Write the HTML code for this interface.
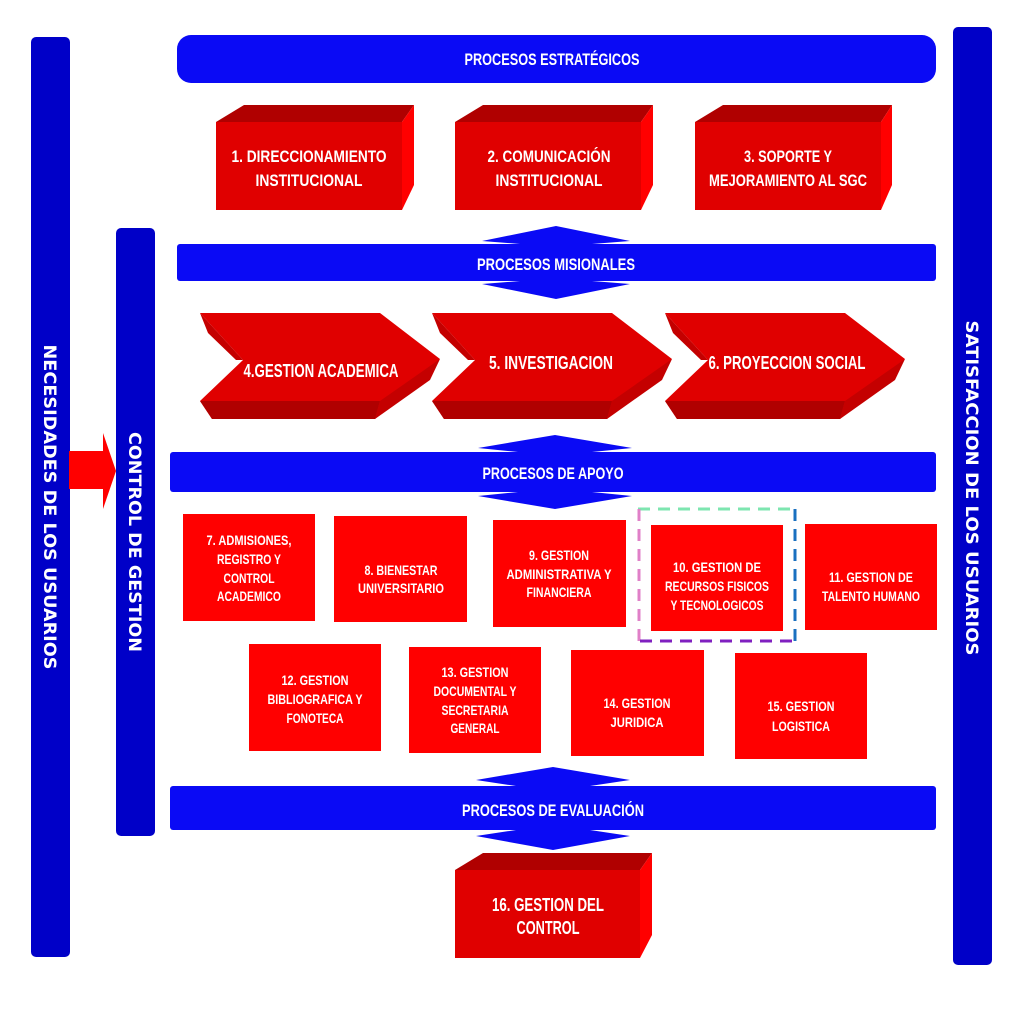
<!DOCTYPE html>
<html><head><meta charset="utf-8"><style>
html,body{margin:0;padding:0;background:#fff;}
svg{display:block;}
.t{font-family:"Liberation Sans",sans-serif;font-weight:bold;fill:#fff;text-anchor:middle;}
.v{font-family:"DejaVu Sans","Liberation Sans",sans-serif;font-weight:bold;fill:#fff;text-anchor:middle;font-size:17px;}
</style></head><body>
<svg width="1024" height="1024" viewBox="0 0 1024 1024" xmlns="http://www.w3.org/2000/svg">
<rect width="1024" height="1024" fill="#fff"/>
<!-- side bars -->
<rect x="31" y="37" width="39" height="920" rx="5" fill="#0000c8"/>
<rect x="116" y="228" width="39" height="608" rx="5" fill="#0000c8"/>
<rect x="953" y="27" width="39" height="938" rx="5" fill="#0000c8"/>
<text class="v" transform="translate(44,507) rotate(90)" textLength="325" lengthAdjust="spacingAndGlyphs">NECESIDADES DE LOS USUARIOS</text>
<text class="v" transform="translate(129,542) rotate(90)" textLength="220" lengthAdjust="spacingAndGlyphs">CONTROL DE GESTION</text>
<text class="v" transform="translate(966,488) rotate(90)" textLength="335" lengthAdjust="spacingAndGlyphs">SATISFACCION DE LOS USUARIOS</text>
<!-- red arrow -->
<polygon points="69,451 103,451 103,433 116,471 103,509 103,489 69,489" fill="#ff0000"/>
<!-- top bar -->
<rect x="177" y="35" width="759" height="48" rx="14" fill="#0a0af5"/>
<text class="t" x="552" y="65" font-size="17" textLength="175" lengthAdjust="spacingAndGlyphs">PROCESOS ESTRATÉGICOS</text>
<!-- 3D boxes row 1 -->
<g>
<polygon points="216,122 244,105 414,105 402,122" fill="#b00000"/>
<polygon points="402,122 414,105 414,185 402,210" fill="#ff0000"/>
<rect x="216" y="122" width="186" height="88" fill="#e00000"/>
<text class="t" x="309" y="162" font-size="17" textLength="155" lengthAdjust="spacingAndGlyphs">1. DIRECCIONAMIENTO</text>
<text class="t" x="309" y="186" font-size="17" textLength="107" lengthAdjust="spacingAndGlyphs">INSTITUCIONAL</text>
</g>
<g>
<polygon points="455,122 483,105 653,105 641,122" fill="#b00000"/>
<polygon points="641,122 653,105 653,185 641,210" fill="#ff0000"/>
<rect x="455" y="122" width="186" height="88" fill="#e00000"/>
<text class="t" x="549" y="162" font-size="17" textLength="123" lengthAdjust="spacingAndGlyphs">2. COMUNICACIÓN</text>
<text class="t" x="549" y="186" font-size="17" textLength="107" lengthAdjust="spacingAndGlyphs">INSTITUCIONAL</text>
</g>
<g>
<polygon points="695,122 723,105 892,105 881,122" fill="#b00000"/>
<polygon points="881,122 892,105 892,185 881,210" fill="#ff0000"/>
<rect x="695" y="122" width="186" height="88" fill="#e00000"/>
<text class="t" x="788" y="162" font-size="17" textLength="88" lengthAdjust="spacingAndGlyphs">3. SOPORTE Y</text>
<text class="t" x="788" y="186" font-size="17" textLength="158" lengthAdjust="spacingAndGlyphs">MEJORAMIENTO AL SGC</text>
</g>
<!-- double arrows -->
<polygon points="556,226 630,241 592,244 592,281 630,284 556,299 482,284 520,281 520,244 482,241" fill="#0a0af5"/>
<polygon points="555,435 632,448 592,452 592,492 632,496 555,509 478,496 518,492 518,452 478,448" fill="#0a0af5"/>
<polygon points="553,767 630,780 590,786 590,830 630,836 553,850 476,836 516,830 516,786 476,780" fill="#0a0af5"/>
<!-- misionales bar -->
<rect x="177" y="244" width="759" height="37" rx="3" fill="#0a0af5"/>
<text class="t" x="556" y="270" font-size="17" textLength="158" lengthAdjust="spacingAndGlyphs">PROCESOS MISIONALES</text>
<!-- chevrons -->
<g id="ch1">
<polygon points="200,313 380,313 440,359 375,419 212,419 200,401 243,360" fill="#e00000"/>
<polygon points="212,419 200,401 380,401 375,419" fill="#b00000"/>
<polygon points="380,401 440,359 430,380 375,419" fill="#c40000"/>
<polygon points="200,313 243,360 236,360 208,333" fill="#c40000"/>
</g>
<use href="#ch1" transform="translate(232,0)"/>
<use href="#ch1" transform="translate(465,0)"/>
<text class="t" x="321" y="377" font-size="18" textLength="155" lengthAdjust="spacingAndGlyphs">4.GESTION ACADEMICA</text>
<text class="t" x="551" y="369" font-size="18" textLength="124" lengthAdjust="spacingAndGlyphs">5. INVESTIGACION</text>
<text class="t" x="787" y="369" font-size="18" textLength="157" lengthAdjust="spacingAndGlyphs">6. PROYECCION SOCIAL</text>
<!-- apoyo bar -->
<rect x="170" y="452" width="766" height="40" rx="3" fill="#0a0af5"/>
<text class="t" x="553" y="479" font-size="17" textLength="141" lengthAdjust="spacingAndGlyphs">PROCESOS DE APOYO</text>
<!-- support boxes -->
<g fill="#ff0000">
<rect x="183" y="514" width="132" height="107"/>
<rect x="334" y="516" width="133" height="106"/>
<rect x="493" y="520" width="133" height="107"/>
<rect x="651" y="525" width="132" height="106"/>
<rect x="805" y="524" width="132" height="106"/>
<rect x="249" y="644" width="132" height="107"/>
<rect x="409" y="647" width="132" height="106"/>
<rect x="571" y="650" width="133" height="106"/>
<rect x="735" y="653" width="132" height="106"/>
</g>
<g class="t" font-size="14">
<text x="249" y="545" textLength="85" lengthAdjust="spacingAndGlyphs">7. ADMISIONES,</text>
<text x="249" y="564" textLength="64" lengthAdjust="spacingAndGlyphs">REGISTRO Y</text>
<text x="249" y="583" textLength="51" lengthAdjust="spacingAndGlyphs">CONTROL</text>
<text x="249" y="601" textLength="64" lengthAdjust="spacingAndGlyphs">ACADEMICO</text>
<text x="401" y="575" textLength="73" lengthAdjust="spacingAndGlyphs">8. BIENESTAR</text>
<text x="401" y="593" textLength="86" lengthAdjust="spacingAndGlyphs">UNIVERSITARIO</text>
<text x="559" y="560" textLength="60" lengthAdjust="spacingAndGlyphs">9. GESTION</text>
<text x="559" y="579" textLength="105" lengthAdjust="spacingAndGlyphs">ADMINISTRATIVA Y</text>
<text x="559" y="597" textLength="65" lengthAdjust="spacingAndGlyphs">FINANCIERA</text>
<text x="717" y="572" textLength="88" lengthAdjust="spacingAndGlyphs">10. GESTION DE</text>
<text x="717" y="591" textLength="104" lengthAdjust="spacingAndGlyphs">RECURSOS FISICOS</text>
<text x="717" y="610" textLength="93" lengthAdjust="spacingAndGlyphs">Y TECNOLOGICOS</text>
<text x="871" y="582" textLength="84" lengthAdjust="spacingAndGlyphs">11. GESTION DE</text>
<text x="871" y="601" textLength="98" lengthAdjust="spacingAndGlyphs">TALENTO HUMANO</text>
<text x="315" y="685" textLength="67" lengthAdjust="spacingAndGlyphs">12. GESTION</text>
<text x="315" y="704" textLength="95" lengthAdjust="spacingAndGlyphs">BIBLIOGRAFICA Y</text>
<text x="315" y="723" textLength="57" lengthAdjust="spacingAndGlyphs">FONOTECA</text>
<text x="475" y="677" textLength="67" lengthAdjust="spacingAndGlyphs">13. GESTION</text>
<text x="475" y="696" textLength="83" lengthAdjust="spacingAndGlyphs">DOCUMENTAL Y</text>
<text x="475" y="715" textLength="67" lengthAdjust="spacingAndGlyphs">SECRETARIA</text>
<text x="475" y="733" textLength="49" lengthAdjust="spacingAndGlyphs">GENERAL</text>
<text x="637" y="708" textLength="67" lengthAdjust="spacingAndGlyphs">14. GESTION</text>
<text x="637" y="727" textLength="53" lengthAdjust="spacingAndGlyphs">JURIDICA</text>
<text x="801" y="711" textLength="67" lengthAdjust="spacingAndGlyphs">15. GESTION</text>
<text x="801" y="731" textLength="58" lengthAdjust="spacingAndGlyphs">LOGISTICA</text>
</g>
<!-- dashed highlight -->
<line x1="638" y1="509" x2="796" y2="509" stroke="#7ee6b0" stroke-width="3" stroke-dasharray="12,8"/>
<line x1="639" y1="509" x2="639" y2="641" stroke="#e080c8" stroke-width="3" stroke-dasharray="12,8"/>
<line x1="640" y1="641" x2="796" y2="641" stroke="#8020c0" stroke-width="3" stroke-dasharray="12,8"/>
<line x1="795" y1="509" x2="795" y2="641" stroke="#1a70c0" stroke-width="3" stroke-dasharray="12,8"/>
<!-- evaluacion bar -->
<rect x="170" y="786" width="766" height="44" rx="3" fill="#0a0af5"/>
<text class="t" x="553" y="816" font-size="17" textLength="182" lengthAdjust="spacingAndGlyphs">PROCESOS DE EVALUACIÓN</text>
<!-- box 16 -->
<polygon points="455,870 483,853 652,853 640,870" fill="#b00000"/>
<polygon points="640,870 652,853 652,935 640,958" fill="#ff0000"/>
<rect x="455" y="870" width="185" height="88" fill="#e00000"/>
<text class="t" x="548" y="911" font-size="18" textLength="112" lengthAdjust="spacingAndGlyphs">16. GESTION DEL</text>
<text class="t" x="548" y="934" font-size="18" textLength="63" lengthAdjust="spacingAndGlyphs">CONTROL</text>
</svg>
</body></html>
